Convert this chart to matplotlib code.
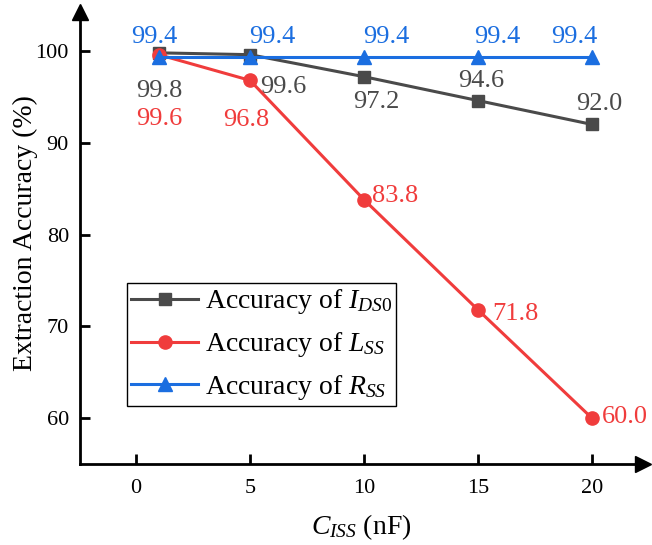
import numpy as np
import matplotlib
matplotlib.use("Agg")
import matplotlib.pyplot as plt

plt.rcParams["font.family"] = "Liberation Serif"
plt.rcParams["mathtext.fontset"] = "custom"
plt.rcParams["mathtext.rm"] = "Liberation Serif"
plt.rcParams["mathtext.it"] = "Liberation Serif:italic"

# data
c_iss = [1, 5, 10, 15, 20]
acc_ids0 = [99.8, 99.6, 97.2, 94.6, 92.0]
acc_lss = [99.6, 96.8, 83.8, 71.8, 60.0]
acc_rss = [99.4, 99.4, 99.4, 99.4, 99.4]

gray = "#4a4a4a"
red = "#f03c3c"
blue = "#1b6ee0"

# label offsets (pixels) and alignment for each point
off_ids0 = [(0, -44, "center"), (10, -38, "left"), (12, -31, "center"), (3, 14, "center"), (7, 14, "center")]
off_lss = [(0, -70, "center"), (-4, -46, "center"), (8, -2, "left"), (14, -10, "left"), (10, -5, "left")]
off_rss = [(-5, 14, "center"), (22, 14, "center"), (22, 14, "center"), (19, 14, "center"), (-18, 14, "center")]

fig = plt.figure(figsize=(6.52, 5.45), dpi=100)
ax = fig.add_axes([80/652, (545-464)/545, (643-80)/652, (464-12)/545])

ax.plot(c_iss, acc_ids0, "-s", color=gray, lw=2.2, ms=8.5, label="Accuracy of $I_{\\mathit{DS0}}$", zorder=3)
ax.plot(c_iss, acc_lss, "-o", color=red, lw=2.2, ms=9.5, label="Accuracy of $L_{SS}$", zorder=4)
ax.plot(c_iss, acc_rss, "-^", color=blue, lw=2.2, ms=10, label="Accuracy of $R_{SS}$", zorder=5)

for xs, ys, offs, col in [(c_iss, acc_ids0, off_ids0, gray),
                          (c_iss, acc_lss, off_lss, red),
                          (c_iss, acc_rss, off_rss, blue)]:
    for x, y, (dx, dy, ha) in zip(xs, ys, offs):
        ax.annotate(f"{y:.1f}", (x, y), xytext=(dx, dy), textcoords="offset pixels",
                    ha=ha, va="baseline", fontsize=19, color=col)

ax.set_xlim(-2.46, 22.24)
ax.set_ylim(55.0, 104.25)
ax.set_xticks([0, 5, 10, 15, 20])
ax.set_yticks([60, 70, 80, 90, 100])

for s in ["top", "right"]:
    ax.spines[s].set_visible(False)
for s in ["left", "bottom"]:
    ax.spines[s].set_linewidth(2.0)
ax.tick_params(direction="in", length=7, width=2, labelsize=16)
ax.tick_params(axis="y", pad=8)
ax.tick_params(axis="x", pad=11)

# arrow heads on the axes
ax.plot(1, 0, ">", color="k", ms=11, transform=ax.transAxes, clip_on=False)
ax.plot(0, 1, "^", color="k", ms=11, transform=ax.transAxes, clip_on=False)

ax.set_xlabel("$C_{ISS}$ (nF)", fontsize=20, labelpad=10)
ax.set_ylabel("Extraction Accuracy (%)", fontsize=20)
ax.yaxis.set_label_coords(-0.0746, 0.511)

leg = ax.legend(loc="upper left", bbox_to_anchor=(0.0835, 0.40), borderaxespad=0,
                fontsize=20, handlelength=2.4, handletextpad=0.25, labelspacing=0.5,
                borderpad=0.15, fancybox=False, framealpha=1, edgecolor="k")
leg.get_frame().set_linewidth(1.0)

fig.savefig("out.png", dpi=100)
